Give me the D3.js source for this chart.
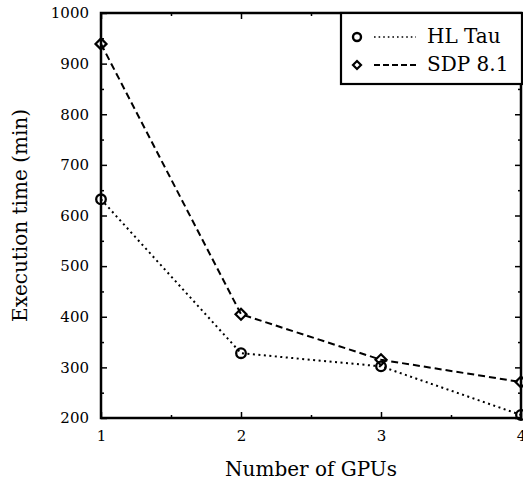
<!DOCTYPE html>
<html>
<head>
<meta charset="utf-8">
<script src="https://cdn.jsdelivr.net/npm/d3@7"></script>
<style>
  body { margin: 0; background: #fff; }
  svg text { font-family: "DejaVu Serif", serif; fill: #000; }
</style>
</head>
<body>
<div id="chart-area"></div>
<script>
const gpus = [1, 2, 3, 4],
  hlTau = [632, 328, 302, 206],
  sdp81 = [939, 405, 315, 271],
  yTicks = [200, 300, 400, 500, 600, 700, 800, 900, 1000],
  xTicks = [1, 2, 3, 4];

const margin = { left: 101, right: 2, top: 13, bottom: 65 },
  width = 523 - margin.left - margin.right,
  height = 483 - margin.top - margin.bottom;

const svg = d3.select("#chart-area")
  .append("svg")
  .attr("width", 523)
  .attr("height", 483);

const g = svg.append("g").attr("transform", "translate(" + margin.left + "," + margin.top + ")");

const x = d3.scaleLinear().domain([1, 4]).range([0, width]);
const y = d3.scaleLinear().domain([200, 1000]).range([height, 0]);

// minor ticks (inward, all four sides)
const xMinor = d3.range(1.5, 4, 1);
const yMinor = d3.range(250, 1000, 100);

function inwardAxis(axis, tickLen) {
  return axis.tickSizeInner(tickLen).tickSizeOuter(0);
}

// bottom
g.append("g").attr("transform", "translate(0," + height + ")")
  .call(inwardAxis(d3.axisBottom(x).tickValues(xTicks).tickFormat(d3.format("d")), -6))
  .call(a => a.selectAll("text").attr("y", 12).style("font-size", "15px"));
g.append("g").attr("transform", "translate(0," + height + ")")
  .call(inwardAxis(d3.axisBottom(x).tickValues(xMinor).tickFormat(""), -3));
// top
g.append("g").call(inwardAxis(d3.axisTop(x).tickValues(xTicks).tickFormat(""), -6));
g.append("g").call(inwardAxis(d3.axisTop(x).tickValues(xMinor).tickFormat(""), -3));
// left
g.append("g")
  .call(inwardAxis(d3.axisLeft(y).tickValues(yTicks).tickFormat(d3.format("d")), -6))
  .call(a => a.selectAll("text").attr("x", -12).style("font-size", "15px"));
g.append("g").call(inwardAxis(d3.axisLeft(y).tickValues(yMinor).tickFormat(""), -3));
// right
g.append("g").attr("transform", "translate(" + width + ",0)")
  .call(inwardAxis(d3.axisRight(y).tickValues(yTicks).tickFormat(""), -6));
g.append("g").attr("transform", "translate(" + width + ",0)")
  .call(inwardAxis(d3.axisRight(y).tickValues(yMinor).tickFormat(""), -3));

g.selectAll(".domain").remove();
g.selectAll(".tick line").attr("stroke", "#000").attr("stroke-width", 1.5);

// frame
g.append("rect")
  .attr("width", width).attr("height", height)
  .attr("fill", "none").attr("stroke", "#000").attr("stroke-width", 2.5);

// lines
const line = d3.line().x((d, i) => x(gpus[i])).y(d => y(d));

g.append("path").datum(hlTau)
  .attr("d", line).attr("fill", "none").attr("stroke", "#000")
  .attr("stroke-width", 2).attr("stroke-dasharray", "2,3.5");

g.append("path").datum(sdp81)
  .attr("d", line).attr("fill", "none").attr("stroke", "#000")
  .attr("stroke-width", 2).attr("stroke-dasharray", "7,4");

// markers
const diamond = "M0,-5.5L5.5,0L0,5.5L-5.5,0Z";

g.selectAll(".hl").data(hlTau).enter().append("circle")
  .attr("cx", (d, i) => x(gpus[i])).attr("cy", d => y(d)).attr("r", 4.8)
  .attr("fill", "none").attr("stroke", "#000").attr("stroke-width", 2.3);

g.selectAll(".sdp").data(sdp81).enter().append("path")
  .attr("transform", (d, i) => "translate(" + x(gpus[i]) + "," + y(d) + ")")
  .attr("d", diamond).attr("fill", "none").attr("stroke", "#000").attr("stroke-width", 2.2);

// legend
const lg = svg.append("g").attr("transform", "translate(341,13)");
lg.append("rect").attr("width", 181).attr("height", 71)
  .attr("fill", "#fff").attr("stroke", "#000").attr("stroke-width", 2.2);
lg.append("circle").attr("cx", 16).attr("cy", 24).attr("r", 4)
  .attr("fill", "none").attr("stroke", "#000").attr("stroke-width", 2.4);
lg.append("line").attr("x1", 33).attr("x2", 75).attr("y1", 24).attr("y2", 24)
  .attr("stroke", "#000").attr("stroke-width", 1.6).attr("stroke-dasharray", "1.6,3");
lg.append("text").attr("x", 86).attr("y", 30).style("font-size", "20px").text("HL Tau");
lg.append("path").attr("transform", "translate(16,52)").attr("d", "M0,-4L4,0L0,4L-4,0Z")
  .attr("fill", "none").attr("stroke", "#000").attr("stroke-width", 2.2);
lg.append("line").attr("x1", 33).attr("x2", 75).attr("y1", 52).attr("y2", 52)
  .attr("stroke", "#000").attr("stroke-width", 2.2).attr("stroke-dasharray", "6,3");
lg.append("text").attr("x", 86).attr("y", 58).style("font-size", "20px").text("SDP 8.1");

// axis titles
svg.append("text")
  .attr("x", 311).attr("y", 476)
  .attr("text-anchor", "middle").style("font-size", "20px")
  .text("Number of GPUs");

svg.append("text")
  .attr("transform", "translate(27," + (margin.top + height / 2) + ") rotate(-90)")
  .attr("text-anchor", "middle").style("font-size", "20px")
  .text("Execution time (min)");
</script>
</body>
</html>
